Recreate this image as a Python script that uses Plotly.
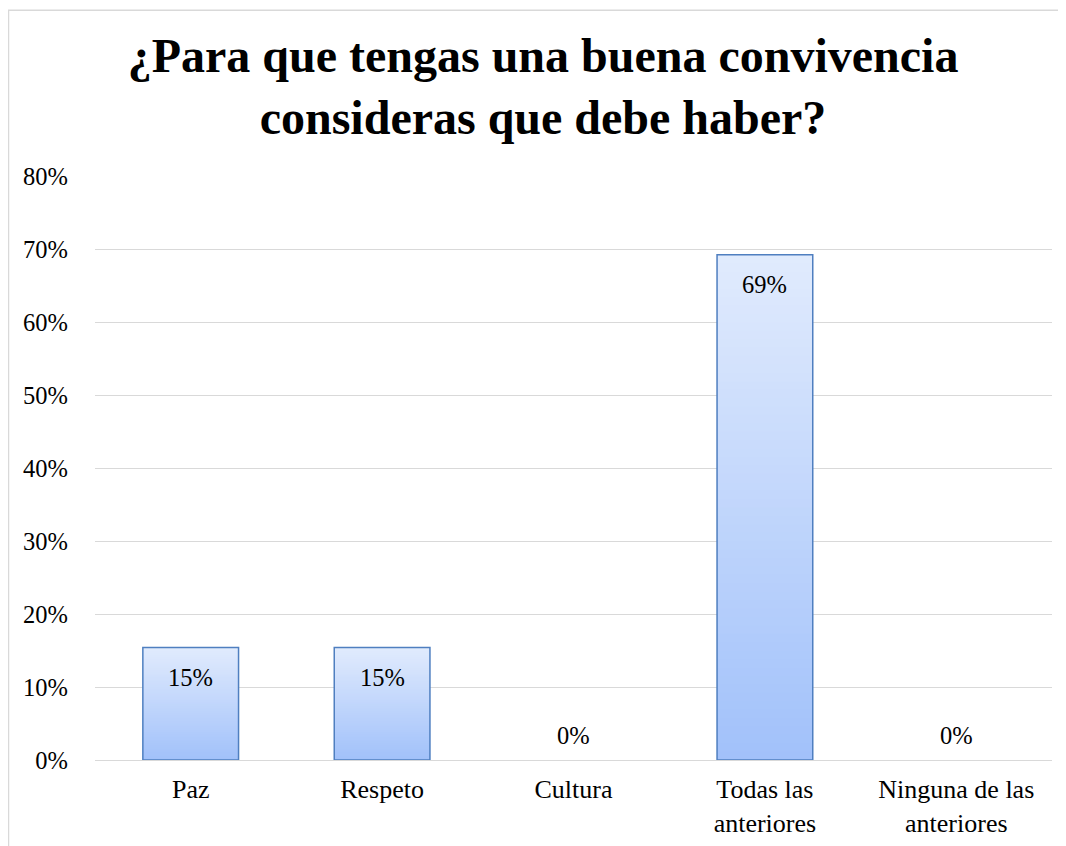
import plotly.graph_objects as go

categories = ["Paz", "Respeto", "Cultura", "Todas las<br>anteriores", "Ninguna de las<br>anteriores"]
values = [0.154, 0.154, 0.0, 0.692, 0.0]
labels = ["15%", "15%", "0%", "69%", "0%"]
y_ticks = [0, 0.1, 0.2, 0.3, 0.4, 0.5, 0.6, 0.7, 0.8]
y_ticktext = ["0%", "10%", "20%", "30%", "40%", "50%", "60%", "70%", "80%"]

FONT = "Liberation Serif, Times New Roman, serif"
BOTTOM = (161, 193, 250)
TOP = (225, 235, 253)
N = 60

fig = go.Figure()
for i in range(N):
    t = (i + 0.5) / N
    c = tuple(round(BOTTOM[k] + (TOP[k] - BOTTOM[k]) * t) for k in range(3))
    bases = [v * i / N for v in values]
    tops = [min(v * (i + 2) / N, v) for v in values]
    fig.add_trace(go.Bar(
        x=categories,
        y=[tp - b for tp, b in zip(tops, bases)],
        base=bases,
        width=0.5,
        marker=dict(color="rgb(%d,%d,%d)" % c, line=dict(width=0)),
        hoverinfo="skip", showlegend=False,
    ))

fig.add_trace(go.Bar(
    x=categories,
    y=[v if v > 0 else None for v in values],
    width=0.5,
    marker=dict(color="rgba(0,0,0,0)", line=dict(color="#4f7fc0", width=1.5)),
    showlegend=False,
))

for c, v, lab in zip(categories, values, labels):
    fig.add_annotation(
        x=c, y=v, text=lab, showarrow=False,
        yshift=-30 if v > 0 else 25,
        font=dict(family=FONT, size=24.5, color="#000000"),
    )

fig.add_shape(type="rect", xref="paper", yref="paper",
              x0=-0.0904, x1=1.2, y0=-0.5, y1=1.284,
              line=dict(color="#d9d9d9", width=1.5), fillcolor="rgba(0,0,0,0)", layer="below")

fig.update_layout(
    width=1058, height=838,
    barmode="overlay",
    paper_bgcolor="white", plot_bgcolor="white",
    margin=dict(l=87, r=14, t=168, b=86),
    title=dict(
        text="<b>¿Para que tengas una buena convivencia<br>consideras que debe haber?</b>",
        x=0.5057, xanchor="center", y=0.924, yanchor="middle",
        font=dict(family=FONT, size=48, color="#000000"),
    ),
    xaxis=dict(
        type="category", showgrid=False, showline=False, ticks="",
        tickfont=dict(family=FONT, size=26, color="#000000"),
        ticklabelstandoff=11, automargin=False,
    ),
    yaxis=dict(
        range=[0, 0.8], tickvals=y_ticks, ticktext=y_ticktext,
        showgrid=True, gridcolor="#d9d9d9", gridwidth=1.3,
        zeroline=True, zerolinecolor="#d9d9d9", zerolinewidth=1.3,
        showline=False, ticks="",
        tickfont=dict(family=FONT, size=24.5, color="#000000"),
        ticklabelstandoff=26, automargin=False,
    ),
)

fig.write_html("out.html")
